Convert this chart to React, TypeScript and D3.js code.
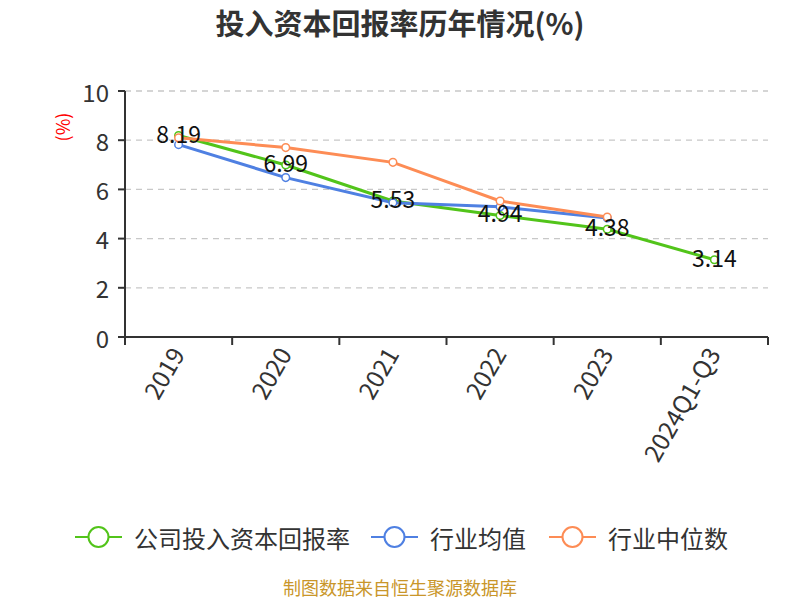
import * as d3 from 'd3';

const categories = ['2019', '2020', '2021', '2022', '2023', '2024Q1-Q3'];
const companyValues = [8.19, 6.99, 5.53, 4.94, 4.38, 3.14];
const industryAvg = [7.82, 6.48, 5.46, 5.29, 4.84];
const industryMedian = [8.1, 7.7, 7.1, 5.53, 4.88];
const yTicks = [0, 2, 4, 6, 8, 10];

const seriesList = [
    { name: '公司投入资本回报率', color: '#52c41a', values: companyValues },
    { name: '行业均值', color: '#4f80e2', values: industryAvg },
    { name: '行业中位数', color: '#fd8c55', values: industryMedian },
];

const width = 800;
const height = 600;
const margin = { left: 125, right: 32, top: 91, bottom: 263 };
const font = '"Noto Sans CJK SC", "Noto Sans", sans-serif';

export default function App() {
    const x = d3
        .scaleBand<string>()
        .domain(categories)
        .range([margin.left, width - margin.right]);
    const y = d3
        .scaleLinear()
        .domain([0, 10])
        .range([height - margin.bottom, margin.top]);

    const cx = (i: number) => (x(categories[i]) ?? 0) + x.bandwidth() / 2;

    const line = d3
        .line<number>()
        .x((_, i) => cx(i))
        .y((d) => y(d));

    // legend icon start / text start
    const legendItems = [
        { x: 75, textX: 134 },
        { x: 371, textX: 430 },
        { x: 549, textX: 608 },
    ];

    return (
        <svg
            width={width}
            height={height}
            style={{ position: 'absolute', left: 0, top: 0, background: '#fff' }}
            fontFamily={font}
        >
            <text x={400} y={35} textAnchor="middle" fontSize={29} fontWeight="bold" fill="#333">
                投入资本回报率历年情况(%)
            </text>

            {/* y axis name */}
            <text
                transform={`translate(62,127) rotate(-90)`}
                textAnchor="middle"
                dominantBaseline="central"
                fontSize={18}
                fill="#ff0000"
            >
                (%)
            </text>

            {/* grid */}
            {yTicks
                .filter((t) => t > 0)
                .map((t) => (
                    <line
                        key={t}
                        x1={margin.left}
                        x2={width - margin.right}
                        y1={y(t)}
                        y2={y(t)}
                        stroke="#c8c8c8"
                        strokeDasharray="6 5"
                        strokeWidth={1.3}
                    />
                ))}

            {/* y axis */}
            <line x1={margin.left} x2={margin.left} y1={y(10)} y2={y(0)} stroke="#333" strokeWidth={2} />
            {yTicks.map((t) => (
                <g key={t}>
                    <line x1={margin.left - 7} x2={margin.left} y1={y(t)} y2={y(t)} stroke="#333" strokeWidth={2} />
                    <text
                        x={margin.left - 16}
                        y={y(t)}
                        textAnchor="end"
                        dominantBaseline="central"
                        fontSize={24}
                        fill="#333"
                    >
                        {t}
                    </text>
                </g>
            ))}

            {/* x axis */}
            <line
                x1={margin.left}
                x2={width - margin.right}
                y1={y(0)}
                y2={y(0)}
                stroke="#333"
                strokeWidth={2}
            />
            {[...categories.map((c) => x(c) ?? 0), width - margin.right].map((px, i) => (
                <line key={i} x1={px} x2={px} y1={y(0)} y2={y(0) + 8} stroke="#333" strokeWidth={2} />
            ))}
            {categories.map((c, i) => (
                <text
                    key={c}
                    transform={`translate(${cx(i) - 2},${y(0) + 12}) rotate(-60)`}
                    textAnchor="end"
                    dominantBaseline="central"
                    fontSize={24.5}
                    fill="#333"
                >
                    {c}
                </text>
            ))}

            {/* lines */}
            {seriesList.map((s) => (
                <path key={s.name} d={line(s.values) ?? ''} fill="none" stroke={s.color} strokeWidth={3} />
            ))}
            {seriesList.map((s) =>
                s.values.map((v, i) => (
                    <circle
                        key={s.name + i}
                        cx={cx(i)}
                        cy={y(v)}
                        r={3.8}
                        fill="#fff"
                        stroke={s.color}
                        strokeWidth={1.5}
                    />
                )),
            )}

            {/* labels */}
            {companyValues.map((v, i) => (
                <text
                    key={i}
                    x={cx(i)}
                    y={y(v) - 3}
                    textAnchor="middle"
                    dominantBaseline="central"
                    fontSize={23}
                    fill="#111"
                >
                    {v.toFixed(2)}
                </text>
            ))}

            {/* legend */}
            {seriesList.map((s, i) => (
                <g key={s.name}>
                    <line
                        x1={legendItems[i].x}
                        x2={legendItems[i].x + 47}
                        y1={537}
                        y2={537}
                        stroke={s.color}
                        strokeWidth={2}
                    />
                    <circle cx={legendItems[i].x + 23.5} cy={537} r={10} fill="#fff" stroke={s.color} strokeWidth={2} />
                    <text
                        x={legendItems[i].textX}
                        y={537}
                        dominantBaseline="central"
                        fontSize={24}
                        fill="#333"
                    >
                        {s.name}
                    </text>
                </g>
            ))}

            <text x={400} y={587} textAnchor="middle" dominantBaseline="central" fontSize={18} fill="#c9962a">
                制图数据来自恒生聚源数据库
            </text>
        </svg>
    );
}
